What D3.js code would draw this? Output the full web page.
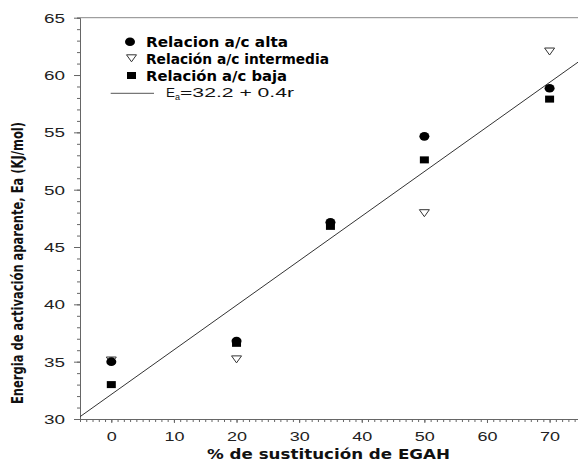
<!DOCTYPE html>
<html><head><meta charset="utf-8">
<script src="https://cdn.jsdelivr.net/npm/d3@7"></script>
<style>body{margin:0;background:#fff}svg{display:block}</style>
</head><body>
<svg id="c" width="578" height="462"></svg>
<script>
// ---- data ----
const sustitucion = [0, 20, 35, 50, 70];
const relAlta = [35.0, 36.8, 47.15, 54.65, 58.85];
const relIntermedia = [35.1, 35.2, null, 47.95, 62.05];
const relBaja = [33.0, 36.6, 46.8, 52.6, 57.9];
const fitX = [-5, 75];
const fitY = [30.2, 61.3];
const xTicks = [0, 10, 20, 30, 40, 50, 60, 70];
const yTicks = [30, 35, 40, 45, 50, 55, 60, 65];
const legendLabels = ["Relacion a/c alta", "Relación a/c intermedia", "Relación a/c baja"];

const svg = d3.select("#c");
const x = d3.scaleLinear().domain([-5, 75]).range([80, 580.9]);
const y = d3.scaleLinear().domain([30, 65]).range([419, 17.7]);
const axisCol = "#666";
const tickFont = "'Liberation Sans', Arial, sans-serif";
const boldFont = "'DejaVu Sans', 'Liberation Sans', sans-serif";

// y axis
const yAxis = svg.append("g").attr("transform", "translate(80,0)");
yAxis.call(d3.axisLeft(y).tickValues(d3.range(30, 66, 1)).tickSize(3).tickFormat(""));
yAxis.selectAll(".tick line").attr("stroke", axisCol);
yAxis.select(".domain").attr("stroke", axisCol);
const yMaj = svg.append("g").attr("transform", "translate(80,0)");
yMaj.call(d3.axisLeft(y).tickValues(yTicks).tickSize(6).tickFormat(d3.format("d")));
yMaj.select(".domain").remove();
yMaj.selectAll(".tick line").attr("stroke", axisCol);
yMaj.selectAll(".tick text").attr("x", -15).attr("dy", "0.36em")
  .attr("font-family", tickFont).attr("font-size", 12.5).attr("fill", "#222")
  .attr("textLength", 21).attr("lengthAdjust", "spacingAndGlyphs");

// x axis
const xAxis = svg.append("g").attr("transform", "translate(0,419)");
xAxis.call(d3.axisBottom(x).tickValues(d3.range(-5, 76, 1)).tickSize(3).tickFormat(""));
xAxis.selectAll(".tick line").attr("stroke", axisCol);
xAxis.select(".domain").attr("stroke", axisCol);
const xMaj = svg.append("g").attr("transform", "translate(0,419)");
xMaj.call(d3.axisBottom(x).tickValues(xTicks).tickSize(4).tickFormat(d3.format("d")));
xMaj.select(".domain").remove();
xMaj.selectAll(".tick line").attr("stroke", axisCol);
xMaj.selectAll(".tick text").attr("y", 22).attr("dy", 0)
  .attr("font-family", tickFont).attr("font-size", 12.5).attr("fill", "#222")
  .each(function(d){ const s = String(d); d3.select(this).attr("textLength", s.length * 10).attr("lengthAdjust", "spacingAndGlyphs"); });

// top border
svg.append("line").attr("x1", x(-5)).attr("x2", x(75)).attr("y1", y(65)).attr("y2", y(65))
  .attr("stroke", "#888").attr("stroke-width", 1);

// fit line
svg.append("line").attr("x1", x(fitX[0])).attr("y1", y(fitY[0])).attr("x2", x(fitX[1])).attr("y2", y(fitY[1]))
  .attr("stroke", "#333").attr("stroke-width", 1);

// markers
function tri(g, cx, cy) {
  g.append("path").attr("d", `M${cx-5},${cy-3.5}L${cx+5},${cy-3.5}L${cx},${cy+3.5}Z`)
    .attr("fill", "#fff").attr("stroke", "#333").attr("stroke-width", 1);
}
function circ(g, cx, cy) {
  g.append("ellipse").attr("cx", cx).attr("cy", cy).attr("rx", 5).attr("ry", 4.3).attr("fill", "#000");
}
function sq(g, cx, cy) {
  g.append("rect").attr("x", cx-4.5).attr("y", cy-3.5).attr("width", 9).attr("height", 7).attr("fill", "#000");
}
const pts = svg.append("g");
sustitucion.forEach((s, i) => { if (relIntermedia[i] != null) tri(pts, x(s), y(relIntermedia[i])); });
sustitucion.forEach((s, i) => circ(pts, x(s), y(relAlta[i])));
sustitucion.forEach((s, i) => sq(pts, x(s), y(relBaja[i])));

// legend
const lg = svg.append("g");
const legY = [46.5, 63.8, 80.5];
circ(lg, 130, legY[0] - 4.8);
tri(lg, 131.5, legY[1] - 5.5);
sq(lg, 131.5, legY[2] - 5);
const legW = [142, 183, 141];
legendLabels.forEach((t, i) => {
  lg.append("text").attr("x", 146).attr("y", legY[i]).text(t)
    .attr("font-family", boldFont).attr("font-weight", "bold").attr("font-size", 14.5).attr("fill", "#000")
    .attr("textLength", legW[i]).attr("lengthAdjust", "spacingAndGlyphs");
});
lg.append("line").attr("x1", 110.7).attr("x2", 154).attr("y1", 93.3).attr("y2", 93.3)
  .attr("stroke", "#555").attr("stroke-width", 1);
const eq = lg.append("text").attr("x", 166).attr("y", 96.5).attr("font-family", tickFont)
  .attr("font-size", 13.5).attr("fill", "#111");
eq.append("tspan").text("E");
eq.append("tspan").text("a").attr("font-size", 9).attr("dy", 3.5);
eq.append("tspan").text("=32.2 + 0.4r").attr("dy", -3.5).attr("textLength", 114).attr("lengthAdjust", "spacingAndGlyphs");

// axis titles
svg.append("text").attr("x", 207).attr("y", 459).text("% de sustitución de EGAH")
  .attr("font-family", boldFont).attr("font-weight", "bold").attr("font-size", 14).attr("fill", "#111")
  .attr("textLength", 243).attr("lengthAdjust", "spacingAndGlyphs");
svg.append("text").attr("transform", "translate(23,404) rotate(-90)").text("Energia de activación aparente, Ea (KJ/mol)")
  .attr("font-family", "'Liberation Sans Narrow', 'DejaVu Sans Condensed', sans-serif").attr("font-weight", "bold")
  .attr("font-size", 15).attr("fill", "#111")
  .attr("textLength", 282).attr("lengthAdjust", "spacingAndGlyphs");
</script>
</body></html>
